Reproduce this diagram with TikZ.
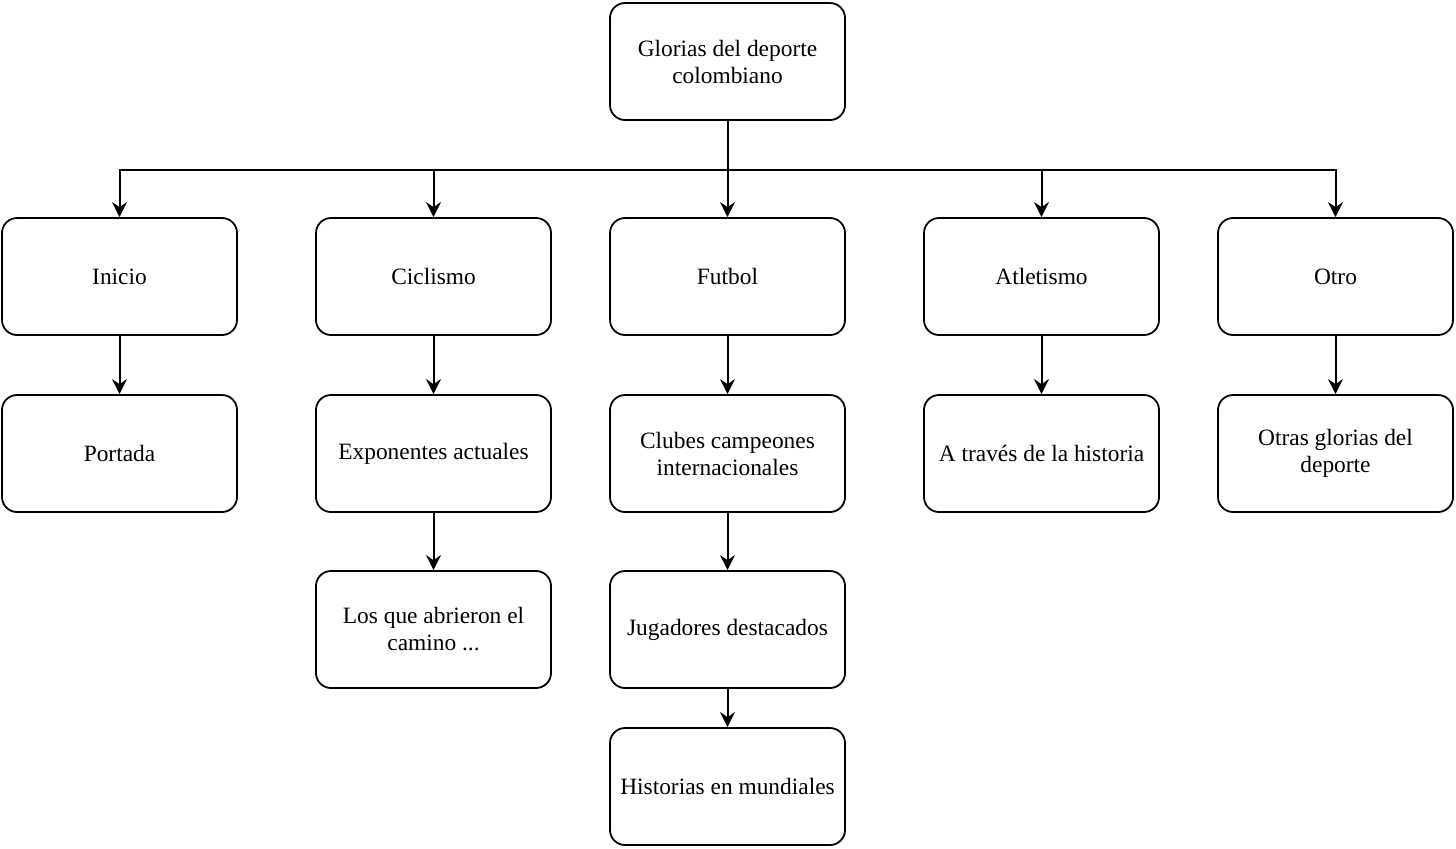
\documentclass[tikz,border=0pt]{standalone}
\usepackage{fontspec}
\setmainfont{Liberation Serif}
\usetikzlibrary{arrows.meta, positioning}

\begin{document}
\begin{tikzpicture}[x=0.5pt, y=-0.5pt, >={Stealth[length=7.5pt, width=7.5pt, inset=2.5pt]},
  every node/.style={rectangle, rounded corners=7.5pt, draw, line width=0.9pt, minimum width=117.5pt, minimum height=58.5pt, align=center, font=\fontsize{11.7}{13.5}\selectfont, inner sep=2pt},
  conn/.style={->, line width=1pt}]
\useasboundingbox (0,0) rectangle (1456,848);
% Root
\node (glorias) at (727.5,61.5) {Glorias del deporte\\colombiano};
% Sections
\node (inicio) at (119.5,276.5) {Inicio};
\node (ciclismo) at (433.5,276.5) {Ciclismo};
\node (futbol) at (727.5,276.5) {Futbol};
\node (atletismo) at (1041.5,276.5) {Atletismo};
\node (otro) at (1335.5,276.5) {Otro};
% Pages
\node (portada) at (119.5,453.5) {Portada};
\node (exponentes) at (433.5,453.5) {Exponentes actuales};
\node (abrieron) at (433.5,629.5) {Los que abrieron el\\camino ...};
\node (clubes) at (727.5,453.5) {Clubes campeones\\internacionales};
\node (jugadores) at (727.5,629.5) {Jugadores destacados};
\node (mundiales) at (727.5,786.5) {Historias en mundiales};
\node (historia) at (1041.5,453.5) {A través de la historia};
\node (otras) at (1335.5,453.5) {Otras glorias del\\deporte};
% Bus
\coordinate (bus) at (727.5,170);
\draw[conn] (glorias) -- (bus) -| (inicio);
\draw[conn] (glorias) -- (bus) -| (ciclismo);
\draw[conn] (glorias) -- (futbol);
\draw[conn] (glorias) -- (bus) -| (atletismo);
\draw[conn] (glorias) -- (bus) -| (otro);
% Columns
\draw[conn] (inicio) -- (portada);
\draw[conn] (ciclismo) -- (exponentes);
\draw[conn] (exponentes) -- (abrieron);
\draw[conn] (futbol) -- (clubes);
\draw[conn] (clubes) -- (jugadores);
\draw[conn] (jugadores) -- (mundiales);
\draw[conn] (atletismo) -- (historia);
\draw[conn] (otro) -- (otras);
\end{tikzpicture}
\end{document}
